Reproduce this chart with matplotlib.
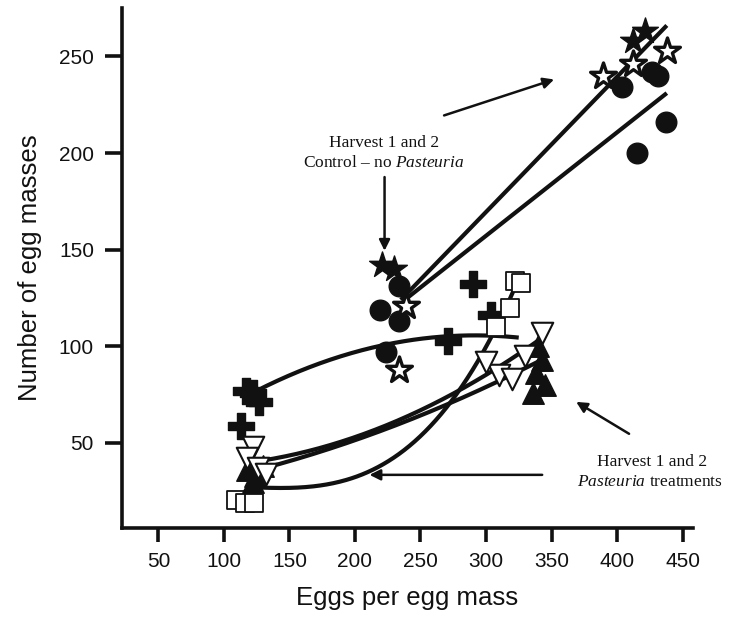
import numpy as np
import matplotlib
matplotlib.use("Agg")
import matplotlib.pyplot as plt

# ---- data -----------------------------------------------------------
# Control (no Pasteuria), harvests 1 and 2
ctrl_star_open_x = [389, 412, 438, 239, 234]
ctrl_star_open_y = [240, 246, 253, 121, 88]
ctrl_star_fill_x = [412, 421, 221, 230]
ctrl_star_fill_y = [258, 263, 142, 140]
ctrl_circ_x = [404, 431, 427, 437, 415, 234, 219, 234, 224]
ctrl_circ_y = [234, 240, 242, 216, 200, 131, 119, 113, 97]

# Pasteuria treatments
plus_x = [113, 117, 127, 122, 271, 290, 304]
plus_y = [59, 77, 71, 76, 103, 132, 116]
sq_x = [109, 116, 123, 322, 327, 318, 308]
sq_y = [20.5, 19, 19, 134, 133, 120, 110]
tri_up_x = [118, 124, 130, 122, 340, 343, 338, 345, 336]
tri_up_y = [36, 33, 38, 30, 100, 93, 86, 80, 76]
tri_dn_x = [122, 118, 126, 132, 310, 300, 343, 320, 330]
tri_dn_y = [48, 42, 37, 34, 85, 92, 107, 83, 95]

# fitted lines / curves (points on each fit)
fit_star_x = [235, 438]
fit_star_y = [124, 266]
fit_circ_x = [238, 438]
fit_circ_y = [124, 231]
fit_plus_x = [125, 200, 325]
fit_plus_y = [77, 97, 104.5]
fit_sq_x = [125, 210, 262, 325]
fit_sq_y = [27, 35, 62, 135]
fit_dn_x = [130, 196, 262, 342]
fit_dn_y = [41, 52, 71, 104]
fit_up_x = [130, 196, 262, 340]
fit_up_y = [37, 50, 68, 92]

xticks = [50, 100, 150, 200, 250, 300, 350, 400, 450]
yticks = [50, 100, 150, 200, 250]

plt.rcParams['font.family'] = ['Liberation Sans', 'DejaVu Sans']
plt.rcParams['mathtext.fontset'] = 'custom'
plt.rcParams['mathtext.rm'] = 'Liberation Serif'
plt.rcParams['mathtext.it'] = 'Liberation Serif:italic'

fig = plt.figure(figsize=(7.42, 6.19), dpi=100)
ax = fig.add_axes([0.164, 0.147, 0.770, 0.840])
ax.set_xlim(22, 458)
ax.set_ylim(6, 275)

lw_fit = 3.0
k = '#111111'

def smooth(xs, ys, deg):
    c = np.polyfit(xs, ys, deg)
    xx = np.linspace(min(xs), max(xs), 200)
    return xx, np.polyval(c, xx)

for fx, fy in [(fit_star_x, fit_star_y), (fit_circ_x, fit_circ_y)]:
    ax.plot(fx, fy, color=k, lw=lw_fit, solid_capstyle='butt', zorder=2)
for fx, fy, deg in [(fit_plus_x, fit_plus_y, 2), (fit_sq_x, fit_sq_y, 3),
                    (fit_dn_x, fit_dn_y, 2), (fit_up_x, fit_up_y, 2)]:
    xx, yy = smooth(fx, fy, deg)
    ax.plot(xx, yy, color=k, lw=lw_fit, solid_capstyle='butt', zorder=2)

ax.scatter(ctrl_circ_x, ctrl_circ_y, s=220, marker='o', color=k, zorder=3)
ax.scatter(ctrl_star_fill_x, ctrl_star_fill_y, s=380, marker='*', color=k, zorder=4)
ax.scatter(ctrl_star_open_x, ctrl_star_open_y, s=380, marker='*', facecolor='white',
           edgecolor=k, linewidth=2.4, zorder=4)
ax.scatter(plus_x, plus_y, s=360, marker='P', color=k, zorder=3)
ax.scatter(sq_x, sq_y, s=170, marker='s', facecolor='white', edgecolor=k,
           linewidth=1.3, zorder=3)
ax.scatter(tri_up_x, tri_up_y, s=240, marker='^', color=k, zorder=3)
ax.scatter(tri_dn_x, tri_dn_y, s=240, marker='v', facecolor='white', edgecolor=k,
           linewidth=1.5, zorder=3)

# axes styling
for side in ('top', 'right'):
    ax.spines[side].set_visible(False)
for side in ('left', 'bottom'):
    ax.spines[side].set_linewidth(2.6)
    ax.spines[side].set_color(k)
ax.set_xticks(xticks)
ax.set_yticks(yticks)
ax.tick_params(axis='y', length=12, width=2.6, pad=8, labelsize=15, colors=k)
ax.tick_params(axis='x', length=10, width=2.6, pad=7, labelsize=15, colors=k)
ax.set_xlabel('Eggs per egg mass', fontsize=18.5, labelpad=11, color=k)
ax.set_ylabel('Number of egg masses', fontsize=18.5, labelpad=12, color=k)

serif = ['Liberation Serif', 'DejaVu Serif']
arrow = dict(arrowstyle='-|>', color=k, lw=1.8, mutation_scale=16)
ax.text(222, 205, 'Harvest 1 and 2', ha='center', va='center', fontsize=12.5,
        family=serif, color=k)
ax.text(222, 195, 'Control \u2013 no $\\mathit{Pasteuria}$', ha='center', va='center',
        fontsize=12.5, family=serif, color=k)
ax.annotate('', xy=(222.6, 148), xytext=(222.6, 189), arrowprops=arrow)
ax.annotate('', xy=(354, 238.5), xytext=(266, 219), arrowprops=arrow)

ax.text(427, 40, 'Harvest 1 and 2', ha='center', va='center', fontsize=12.5,
        family=serif, color=k)
ax.text(425, 30, '$\\mathit{Pasteuria}$ treatments', ha='center', va='center',
        fontsize=12.5, family=serif, color=k)
ax.annotate('', xy=(367, 72), xytext=(411, 54), arrowprops=arrow)
ax.annotate('', xy=(209, 33.5), xytext=(345, 33.5), arrowprops=arrow)

fig.savefig('out.png', dpi=100)
